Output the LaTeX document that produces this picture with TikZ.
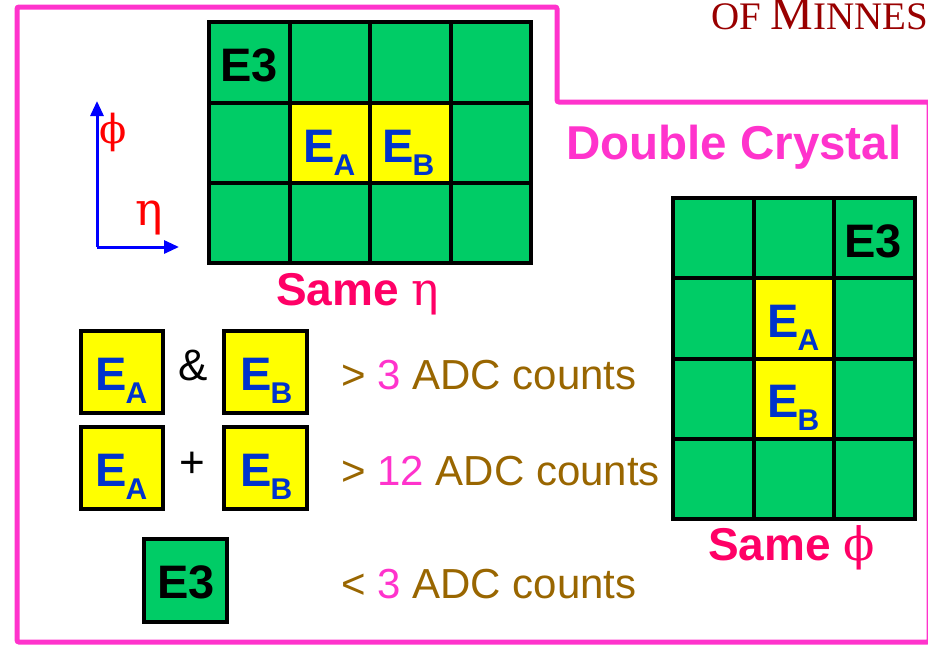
\documentclass[tikz,border=0pt]{standalone}
\usepackage{fontspec}
\setmainfont{Liberation Sans}
\newfontfamily\grk{DejaVu Serif}
\newfontfamily\tms{Liberation Serif}
\usetikzlibrary{arrows.meta}
\definecolor{pinkf}{HTML}{FF33CC}
\definecolor{samec}{HTML}{FF0066}
\definecolor{cellg}{HTML}{00CC66}
\definecolor{celly}{HTML}{FFFF00}
\definecolor{bluet}{HTML}{0033CC}
\definecolor{adc}{HTML}{996600}
\definecolor{umn}{HTML}{990000}
\newcommand{\fsz}[1]{\fontsize{#1}{#1}\selectfont}
\newcommand{\subA}[1]{\kern-1pt\raisebox{-13pt}{\fsz{30}#1}}
\begin{document}
\begin{tikzpicture}[x=1pt,y=-1pt,
  gridln/.style={black,line width=4pt},
  boxln/.style={black,line width=4pt},
  big/.style={inner sep=0pt,anchor=base west,font=\fsz{47}\bfseries},
  etxt/.style={big,text=bluet},
  kval/.style={inner sep=0pt,anchor=base west,font=\fsz{42},text=adc},
  samelbl/.style={inner sep=0pt,anchor=base west,font=\fsz{46}\bfseries,text=samec},
  axis/.style={blue,line width=3pt,-{Triangle[width=13pt,length=15pt]}}]
\useasboundingbox (0,0) rectangle (928,646);
% header text (cut at page edge, as in the original)
\begin{scope}
\clip (0,0) rectangle (928,646);
\node[inner sep=0pt,anchor=base west,text=umn] (umn) at (711,29)
  {\tms\fsz{39}OF \fsz{48}M\fsz{39}INNES};
\end{scope}
% pink frame
\draw[pinkf,line width=5pt,rounded corners=2pt]
  (17,642) -- (17,7) -- (557,7) -- (557,102) -- (929,102) -- (929,642) -- cycle;
% grid 1 (same eta)
\fill[cellg] (209,22) rectangle (531,263);
\fill[celly] (289.5,102.5) rectangle (450.5,183);
\draw[gridln] (209,22) rectangle (531,263);
\foreach \xx in {289.5,370,450.5} \draw[gridln] (\xx,22) -- (\xx,263);
\foreach \yy in {102.5,183} \draw[gridln] (209,\yy) -- (531,\yy);
\node[big] (g1e3) at (220,81) {E3};
\node[etxt] (g1ea) at (303,162) {E\subA{A}};
\node[etxt] (g1eb) at (382,162) {E\subA{B}};
\node[samelbl] (sameeta) at (276,305) {Same {\grk\mdseries η}};
% axes
\coordinate (orig) at (97,247);
\coordinate (phitip) at (97,101);
\coordinate (etatip) at (179,247);
\draw[axis] (orig) -- (phitip);
\draw[axis] (orig) -- (etatip);
\node[inner sep=0pt,text=red,font=\grk\fsz{40}] (phi) at (113.5,132) {ϕ};
\node[inner sep=0pt,text=red,font=\grk\fsz{46}] (eta) at (149,218) {η};
% Double Crystal
\node[inner sep=0pt,anchor=base west,font=\fsz{47.5}\bfseries,text=pinkf] (dc) at (566,159) {Double Crystal};
% grid 2 (same phi)
\fill[cellg] (673,198) rectangle (915,519);
\fill[celly] (753.7,278.25) rectangle (834.3,438.75);
\draw[gridln] (673,198) rectangle (915,519);
\foreach \xx in {753.7,834.3} \draw[gridln] (\xx,198) -- (\xx,519);
\foreach \yy in {278.25,358.5,438.75} \draw[gridln] (673,\yy) -- (915,\yy);
\node[big] (g2e3) at (844,257) {E3};
\node[etxt] (g2ea) at (767,337) {E\subA{A}};
\node[etxt] (g2eb) at (767,417) {E\subA{B}};
\node[samelbl] (samephi) at (708,560) {Same {\grk\mdseries ϕ}};
% legend boxes
\draw[boxln,fill=celly] (81,331) rectangle (163,413);
\draw[boxln,fill=celly] (224,331) rectangle (307,413);
\draw[boxln,fill=celly] (81,427) rectangle (163,509);
\draw[boxln,fill=celly] (224,427) rectangle (307,509);
\draw[boxln,fill=cellg] (144,539) rectangle (227,622);
\node[etxt] (l1a) at (95,390) {E\subA{A}};
\node[etxt] (l1b) at (240,390) {E\subA{B}};
\node[etxt] (l2a) at (95,486) {E\subA{A}};
\node[etxt] (l2b) at (240,486) {E\subA{B}};
\node[big] (l3) at (157,598) {E3};
\node[inner sep=0pt,anchor=base west,font=\fsz{44}] (amp) at (178,380) {\&};
\node[inner sep=0pt,font=\fsz{44}] (plus) at (192,465) {+};
\node[kval] (t1) at (341,389) {> {\color{pinkf}3} ADC counts};
\node[kval] (t2) at (341,485) {> {\color{pinkf}12} ADC counts};
\node[kval] (t3) at (341,598) {< {\color{pinkf}3} ADC counts};
\end{tikzpicture}
\end{document}
